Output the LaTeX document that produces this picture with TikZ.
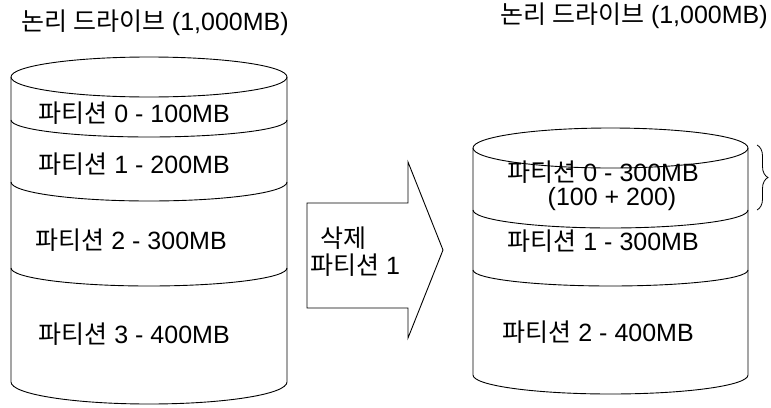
\documentclass[tikz,border=0pt]{standalone}
\usepackage{fontspec}
\setmainfont{Liberation Sans}
\newfontfamily\kr{Noto Sans CJK KR}
\newcommand\Kr[1]{{\kr #1}}
\usetikzlibrary{decorations.pathreplacing}
\begin{document}
\begin{tikzpicture}[x=1pt,y=-1pt,line width=0.9pt,
  lbl/.style={inner sep=0pt,font=\fontsize{25}{29}\selectfont,anchor=west},
  clbl/.style={inner sep=0pt,font=\fontsize{25}{29}\selectfont}]
\useasboundingbox[fill=white] (0,0) rectangle (771,407);
% left cylinder
\draw (149,77) ellipse [x radius=138, y radius=20];
\draw (11,77) -- (11,382) arc[start angle=180,end angle=0,x radius=138,y radius=22] -- (287,77);
\draw (11,120) arc[start angle=180,end angle=0,x radius=138,y radius=17];
\draw (11,182) arc[start angle=180,end angle=0,x radius=138,y radius=19];
\draw (11,268) arc[start angle=180,end angle=0,x radius=138,y radius=18];
% right cylinder
\draw (610.5,148) ellipse [x radius=137.5, y radius=20];
\draw (473,148) -- (473,375) arc[start angle=180,end angle=0,x radius=137.5,y radius=19] -- (748,148);
\draw (473,210) arc[start angle=180,end angle=0,x radius=137.5,y radius=18];
\draw (473,270) arc[start angle=180,end angle=0,x radius=137.5,y radius=16];
% block arrow
\draw (307,203) -- (408,203) -- (408,162) -- (443,250) -- (408,338) -- (408,308) -- (307,308) -- cycle;
% brace
\draw[line width=0.8pt,decorate,decoration={brace,amplitude=11pt}] (757,145) -- (757,210);
% texts
\node[lbl] (t1) at (21,23) {\Kr{논리 드라이브} (1,000MB)};
\node[lbl] (t2) at (500,16) {\Kr{논리 드라이브} (1,000MB)};
\node[lbl] (l0) at (38,113) {\Kr{파티션} 0 - 100MB};
\node[lbl] (l1) at (38,164) {\Kr{파티션} 1 - 200MB};
\node[lbl] (l2) at (35,240) {\Kr{파티션} 2 - 300MB};
\node[lbl] (l3) at (38,334) {\Kr{파티션} 3 - 400MB};
\node[lbl] (r0) at (507,172) {\Kr{파티션} 0 - 300MB};
\node[clbl] (r0b) at (612,199) {(100 + 200)};
\node[lbl] (r1) at (507,241) {\Kr{파티션} 1 - 300MB};
\node[lbl] (r2) at (502,332) {\Kr{파티션} 2 - 400MB};
\node[clbl] (a1) at (343,238) {\Kr{삭제}};
\node[clbl] (a2) at (355,265) {\Kr{파티션} 1};
\end{tikzpicture}
\end{document}
